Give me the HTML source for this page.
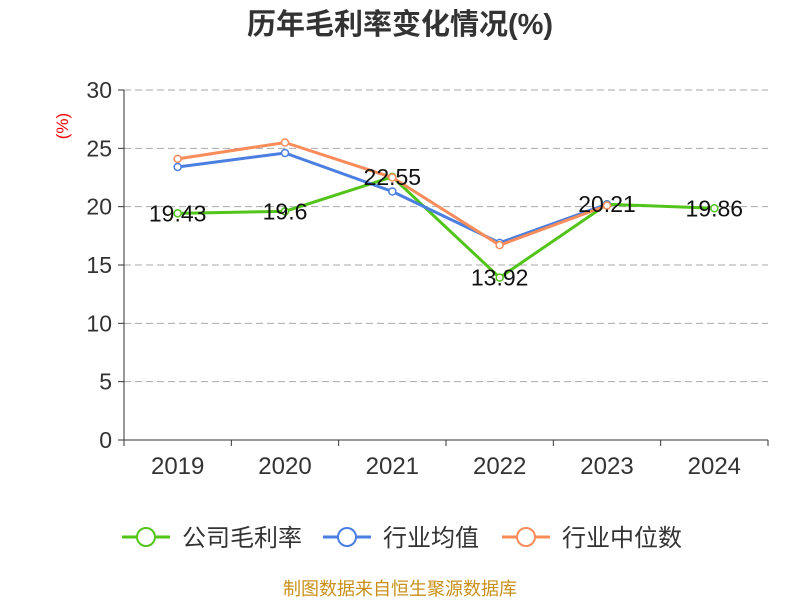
<!DOCTYPE html>
<html><head><meta charset="utf-8"><style>
body{margin:0;background:#fff;font-family:"Liberation Sans","Noto Sans CJK SC",sans-serif;}
</style></head><body>
<svg id="c" width="800" height="600" xmlns="http://www.w3.org/2000/svg">
<text x="400" y="34" text-anchor="middle" font-size="29" font-weight="bold" fill="#333" font-family="Liberation Sans, Noto Sans CJK SC, sans-serif">历年毛利率变化情况(%)</text>
<text x="68" y="126" text-anchor="middle" font-size="17" fill="#e00" transform="rotate(-90 68 126)">(%)</text>
<g id="grid"></g><g id="axes"></g><g id="series"></g><g id="labels"></g>
<g id="legend"></g>
<text x="400" y="595" text-anchor="middle" font-size="18" fill="#c8901a" font-family="Liberation Sans, Noto Sans CJK SC, sans-serif">制图数据来自恒生聚源数据库</text>
</svg>
<script>
const categories=["2019","2020","2021","2022","2023","2024"];
const company=[19.43,19.6,22.55,13.92,20.21,19.86];
const industryAvg=[23.4,24.6,21.3,16.9,20.2,null];
const industryMedian=[24.1,25.5,22.5,16.7,20.1,null];
const yTicks=[0,5,10,15,20,25,30];
const NS="http://www.w3.org/2000/svg";
const x0=124,x1=768,y0=440,y1=90,ymax=30;
const bw=(x1-x0)/categories.length;
const xs=i=>x0+bw*(i+0.5);
const ys=v=>y0-(v/ymax)*(y0-y1);
function mk(tag,attrs,parent){const e=document.createElementNS(NS,tag);for(const k in attrs)e.setAttribute(k,attrs[k]);parent.appendChild(e);return e;}
const grid=document.getElementById('grid'),axes=document.getElementById('axes');
yTicks.forEach(t=>{
 const y=ys(t);
 if(t>0){const l=mk('line',{x1:x0,x2:x1,y1:y,y2:y,stroke:'#aaa','stroke-dasharray':'7,4'},grid);
 
 }
 mk('line',{x1:x0-6,x2:x0,y1:y,y2:y,stroke:'#333'},axes);
 const tx=mk('text',{x:x0-12,y:y+8,'text-anchor':'end','font-size':23,fill:'#333'},axes);tx.textContent=t;
 
 
});
mk('line',{x1:x0,x2:x0,y1:y1,y2:y0,stroke:'#333'},axes);
mk('line',{x1:x0,x2:x1,y1:y0,y2:y0,stroke:'#333'},axes);
for(let i=0;i<=categories.length;i++)mk('line',{x1:x0+bw*i,x2:x0+bw*i,y1:y0,y2:y0+6,stroke:'#333'},axes);
categories.forEach((c,i)=>{const t=mk('text',{x:xs(i),y:474,'text-anchor':'middle','font-size':24,fill:'#333'},axes);t.textContent=c;
 
 });
const ser=document.getElementById('series');
function drawLine(data,color,name){
 const g=mk('g',{},ser);
 
 
 const pts=[];data.forEach((v,i)=>{if(v!=null)pts.push([xs(i),ys(v)]);});
 mk('polyline',{points:pts.map(p=>p.join(',')).join(' '),fill:'none',stroke:color,'stroke-width':3},g);
 pts.forEach(p=>{const c=mk('circle',{cx:p[0],cy:p[1],r:3.5,fill:'#fff',stroke:color,'stroke-width':1.5},g);
 
 });
}
drawLine(company,'#52c41a','series-company');
drawLine(industryAvg,'#4a7ee0','series-industry-avg');
drawLine(industryMedian,'#f98c5b','series-industry-median');
const lab=document.getElementById('labels');
company.forEach((v,i)=>{const t=mk('text',{x:xs(i),y:ys(v)+8,'text-anchor':'middle','font-size':23,fill:'#111'},lab);t.textContent=v;
 
 });
const leg=document.getElementById('legend');
[["公司毛利率",'#52c41a',122],["行业均值",'#4a7ee0',323],["行业中位数",'#f98c5b',502]].forEach(([n,c,x])=>{
 const g=mk('g',{},leg);
 
 
 mk('line',{x1:x,x2:x+48,y1:537,y2:537,stroke:c,'stroke-width':3},g);
 mk('circle',{cx:x+24,cy:537,r:9,fill:'#fff',stroke:c,'stroke-width':2},g);
 const t=mk('text',{x:x+60,y:546,'font-size':24,fill:'#333'},g);t.textContent=n;
});
</script>
</body></html>
